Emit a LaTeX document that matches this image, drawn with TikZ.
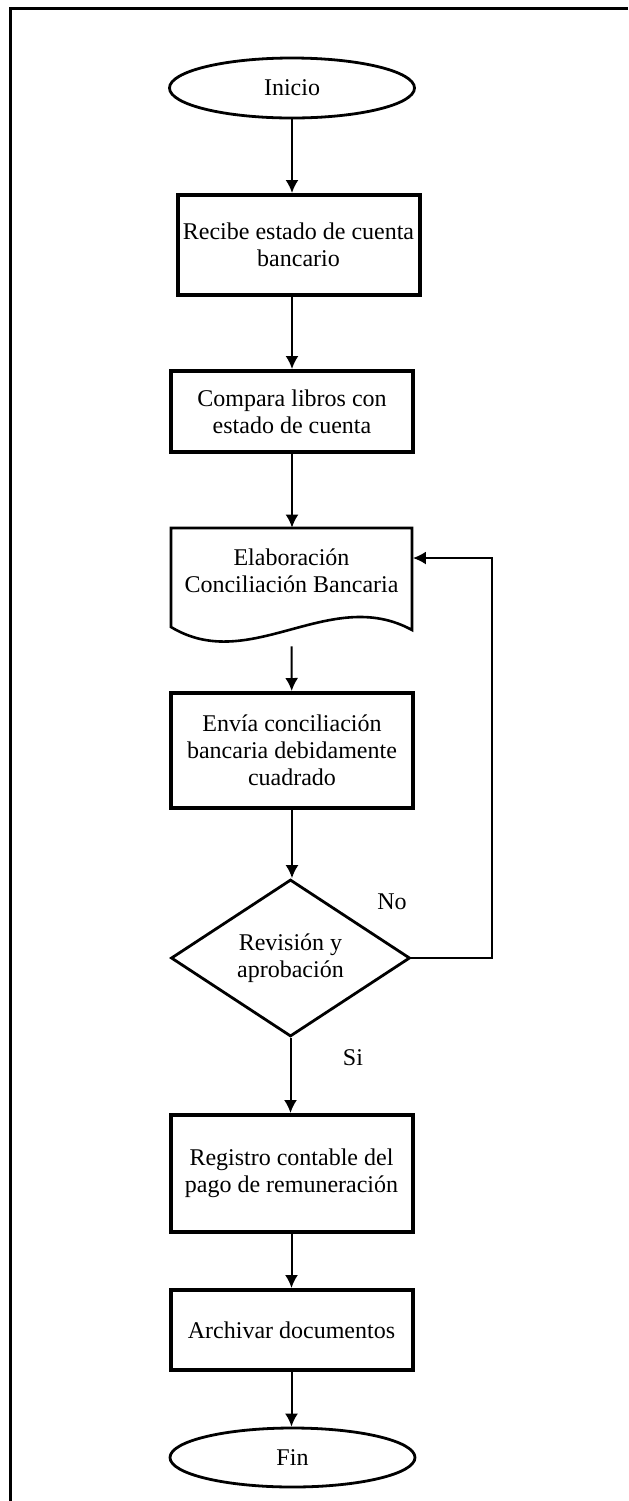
\documentclass[tikz,border=0pt]{standalone}
\usepackage{fontspec}
\setmainfont{Liberation Serif}
\usetikzlibrary{shapes.geometric,arrows.meta}
\begin{document}
\begin{tikzpicture}[x=0.5pt,y=-0.5pt,>={Latex[length=6.5pt,width=6.5pt]},
	font=\fontsize{12}{13.5}\selectfont,
	term/.style={ellipse,draw,line width=1.4pt,minimum width=122.5pt,minimum height=30pt,inner sep=0pt},
	procbox/.style={rectangle,draw,line width=2pt,minimum width=121pt,align=center,inner sep=0pt},
	decide/.style={diamond,draw,line width=1.4pt,aspect=1.5,minimum width=119.5pt,minimum height=78.5pt,inner sep=0pt,align=center},
	flow/.style={->,line width=1pt}]
\useasboundingbox (0,0) rectangle (628,1501);
\draw[line width=1.5pt] (9,8) -- (628,8);
\draw[line width=1.5pt] (10,8) -- (10,1501);
\node[term] (inicio) at (292,88) {Inicio};
\node[procbox,minimum height=50pt] (recibe) at (298.5,245) {Recibe estado de cuenta\\bancario};
\node[procbox,minimum height=40.5pt] (compara) at (292,411.5) {Compara libros con\\estado de cuenta};
\node[minimum width=121pt,minimum height=43pt,inner sep=0pt,align=center] (elabora) at (291.5,571) {Elaboración\\Conciliación Bancaria};
\draw[line width=1.3pt] (171,528) -- (412,528) -- (412,630)
	.. controls (330,585) and (250,675) .. (171,627) -- cycle;
\node[procbox,minimum height=57.5pt] (envia) at (292,750.5) {Envía conciliación\\bancaria debidamente\\cuadrado};
\node[decide] (revision) at (290.5,958) {Revisión y\\aprobación};
\node (no) at (392,902) {No};
\node (si) at (353,1058) {Si};
\node[procbox,minimum height=58.5pt] (registro) at (291.5,1173.5) {Registro contable del\\pago de remuneración};
\node[procbox,minimum height=40pt] (archivar) at (291.5,1330) {Archivar documentos};
\node[term,minimum height=29.5pt] (fin) at (292.5,1457.5) {Fin};
\coordinate (retorno) at (492,558);
\draw[flow] (inicio) -- (inicio |- recibe.north);
\draw[flow] (recibe.south -| compara) -- (compara);
\draw[flow] (compara) -- (compara |- elabora.north);
\draw[flow] ([yshift=-16pt]elabora.south) -- (envia);
\draw[flow] (envia) -- (envia |- revision.north);
\draw[flow] (revision) -- (revision |- registro.north);
\draw[flow] (registro) -- (archivar);
\draw[flow] (archivar) -- (archivar |- fin.north);
\draw[flow] (revision.east) -| (retorno) -- ([yshift=6.5pt]elabora.east);
\end{tikzpicture}
\end{document}
